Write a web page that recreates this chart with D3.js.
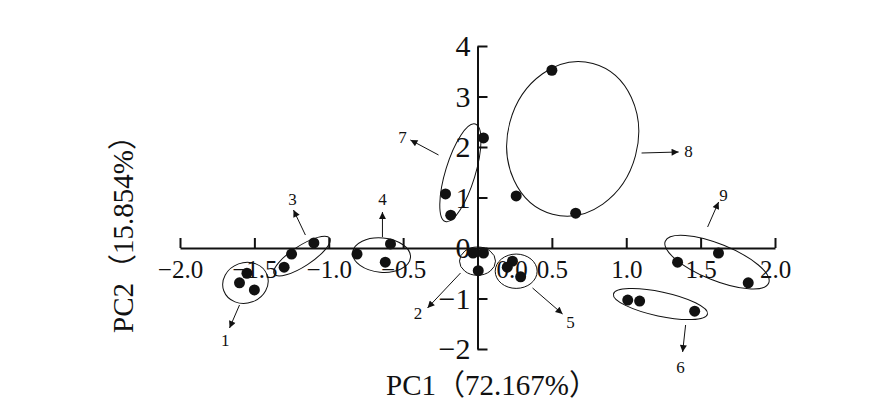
<!DOCTYPE html>
<html>
<head>
<meta charset="utf-8">
<script src="https://cdn.jsdelivr.net/npm/d3@7"></script>
<style>
  body { margin: 0; background: #fff; }
  text { font-family: "Liberation Serif", "Noto Sans CJK SC", serif; fill: #111; }
</style>
</head>
<body>
<svg width="878" height="403"></svg>
<script>
// PCA scores
var groups = [1, 1, 1, 2, 2, 2, 3, 3, 3, 4, 4, 4, 5, 5, 5, 6, 6, 6, 7, 7, 7, 8, 8, 8, 9, 9, 9];
var pc1 = [-1.55, -1.60, -1.50, -0.03, 0.04, 0.005, -1.10, -1.25, -1.30, -0.585, -0.81, -0.62,
           0.235, 0.20, 0.29, 1.01, 1.09, 1.46, 0.04, -0.215, -0.18, 0.50, 0.26, 0.66, 1.345, 1.62, 1.82];
var pc2 = [-0.50, -0.69, -0.83, -0.10, -0.10, -0.45, 0.10, -0.12, -0.38, 0.08, -0.12, -0.28,
           -0.26, -0.38, -0.57, -1.03, -1.05, -1.25, 2.18, 1.07, 0.65, 3.52, 1.03, 0.69, -0.28, -0.10, -0.69];

var xTicks = [-2.0, -1.5, -1.0, -0.5, 0.0, 0.5, 1.0, 1.5, 2.0];
var yTicks = [-2, -1, 0, 1, 2, 3, 4];

// group ellipses: centre and semi-axes in data units, tilt in degrees
var ellipseGroup = [1, 2, 3, 4, 5, 6, 7, 8, 9];
var ellipseCx = [-1.56, 0.0, -1.18, -0.645, 0.26, 1.23, -0.115, 0.64, 1.61];
var ellipseCy = [-0.69, -0.26, -0.16, -0.14, -0.46, -1.11, 1.49, 2.16, -0.28];
var ellipseRx = [0.155, 0.121, 0.222, 0.195, 0.141, 0.323, 0.10, 0.437, 0.375];
var ellipseRy = [0.40, 0.28, 0.20, 0.34, 0.34, 0.24, 1.01, 1.545, 0.36];
var ellipseTilt = [-20, 0, -33, 5, 0, 12, 17, 15, 22];

// leader arrows and group labels (data units)
var arrowX1 = [-1.600, -0.114, -1.157, -0.639, 0.370, 1.399, -0.262, 1.103, 1.547];
var arrowY1 = [-1.129, -0.495, 0.257, 0.218, -0.792, -1.525, 1.842, 1.881, 0.416];
var arrowX2 = [-1.667, -0.336, -1.237, -0.639, 0.572, 1.379, -0.451, 1.352, 1.621];
var arrowY2 = [-1.584, -1.188, 0.752, 0.713, -1.307, -2.059, 2.139, 1.901, 0.911];
var labelX = [-1.695, -0.40, -1.244, -0.639, 0.625, 1.365, -0.504, 1.419, 1.654];
var labelY = [-1.82, -1.29, 0.97, 0.97, -1.47, -2.36, 2.20, 1.92, 1.05];

var svg = d3.select("svg");

var x = d3.scaleLinear().domain([-2, 2]).range([180, 775]);
var y = d3.scaleLinear().domain([-2, 4]).range([349, 46]);

svg.append("defs").append("marker")
    .attr("id", "arrow")
    .attr("viewBox", "0 -5 10 10")
    .attr("refX", 10)
    .attr("refY", 0)
    .attr("markerWidth", 9)
    .attr("markerHeight", 7)
    .attr("markerUnits", "userSpaceOnUse")
    .attr("orient", "auto")
  .append("path")
    .attr("d", "M0,-5L10,0L0,5Z")
    .attr("fill", "#111");

// x axis through y = 0, ticks pointing up
var xAxis = svg.append("g")
    .attr("transform", "translate(0," + y(0) + ")")
    .call(d3.axisBottom(x)
      .tickValues(xTicks)
      .tickFormat(d3.format(".1f"))
      .tickSizeInner(-10)
      .tickSizeOuter(0)
      .tickPadding(12));

// y axis through x = 0, ticks pointing right
var yAxis = svg.append("g")
    .attr("transform", "translate(" + x(0) + ",0)")
    .call(d3.axisLeft(y)
      .tickValues(yTicks)
      .tickFormat(d3.format("d"))
      .tickSizeInner(-10)
      .tickSizeOuter(0)
      .tickPadding(7));

[xAxis, yAxis].forEach(function(ax) {
  ax.select(".domain").attr("stroke", "#111").attr("stroke-width", 2);
  ax.selectAll(".tick line").attr("stroke", "#111").attr("stroke-width", 2);
  ax.selectAll("text").attr("fill", "#111")
    .style("font-family", "'Liberation Serif', serif");
});
xAxis.selectAll("text").style("font-size", "25px");
yAxis.selectAll("text").style("font-size", "30px");
// the "0.0" label sits to the right of the y axis
xAxis.selectAll(".tick text").filter(function(d) { return d === 0; })
    .attr("x", 34);

// ellipses
svg.append("g")
    .selectAll("ellipse")
    .data(ellipseGroup)
    .enter().append("ellipse")
      .attr("transform", function(d, i) {
        return "translate(" + x(ellipseCx[i]) + "," + y(ellipseCy[i]) + ") rotate(" + ellipseTilt[i] + ")";
      })
      .attr("rx", function(d, i) { return x(ellipseRx[i]) - x(0); })
      .attr("ry", function(d, i) { return y(0) - y(ellipseRy[i]); })
      .attr("fill", "none")
      .attr("stroke", "#111")
      .attr("stroke-width", 1);

// arrows
svg.append("g")
    .selectAll("line")
    .data(ellipseGroup)
    .enter().append("line")
      .attr("x1", function(d, i) { return x(arrowX1[i]); })
      .attr("y1", function(d, i) { return y(arrowY1[i]); })
      .attr("x2", function(d, i) { return x(arrowX2[i]); })
      .attr("y2", function(d, i) { return y(arrowY2[i]); })
      .attr("stroke", "#111")
      .attr("stroke-width", 1)
      .attr("marker-end", "url(#arrow)");

svg.append("g")
    .selectAll("text")
    .data(ellipseGroup)
    .enter().append("text")
      .attr("x", function(d, i) { return x(labelX[i]); })
      .attr("y", function(d, i) { return y(labelY[i]); })
      .attr("dy", "0.35em")
      .attr("text-anchor", "middle")
      .style("font-size", "17px")
      .text(function(d) { return d; });

// points
svg.append("g")
    .selectAll("circle")
    .data(groups)
    .enter().append("circle")
      .attr("cx", function(d, i) { return x(pc1[i]); })
      .attr("cy", function(d, i) { return y(pc2[i]); })
      .attr("r", 5.5)
      .attr("fill", "#111");

// axis titles
svg.append("text")
    .attr("x", 492)
    .attr("y", 395)
    .attr("text-anchor", "middle")
    .style("font-size", "29px")
    .text("PC1（72.167%）");

svg.append("text")
    .attr("transform", "translate(133,227) rotate(-90)")
    .attr("text-anchor", "middle")
    .style("font-size", "29px")
    .text("PC2（15.854%）");
</script>
</body>
</html>
